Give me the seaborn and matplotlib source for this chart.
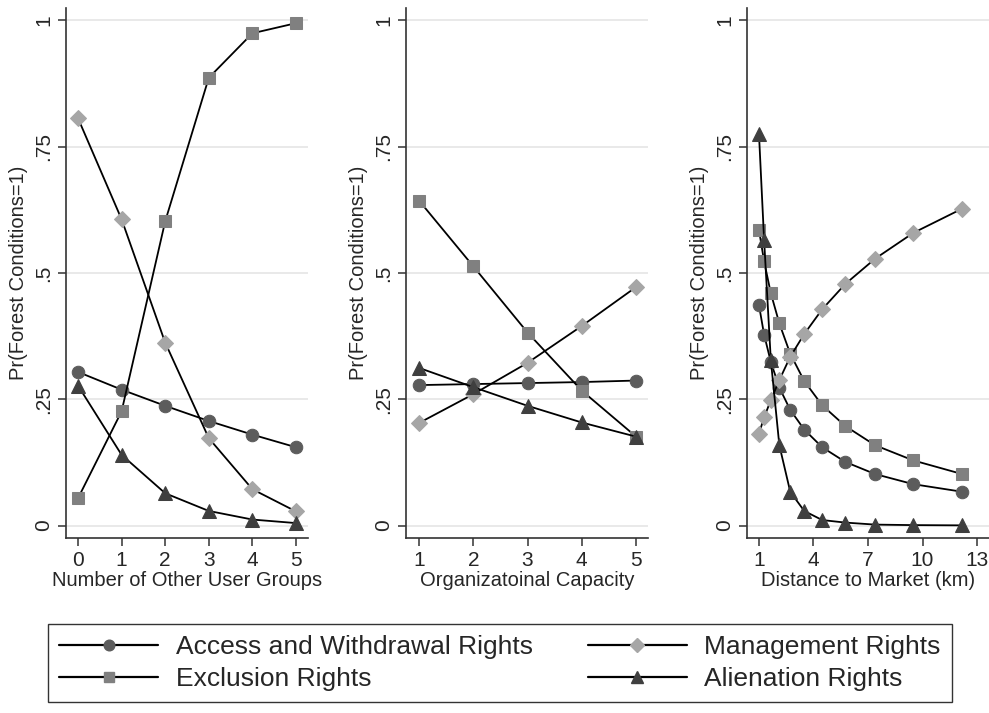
import matplotlib
matplotlib.use("Agg")
import matplotlib.pyplot as plt
import seaborn as sns
import pandas as pd
from matplotlib.lines import Line2D

# Predicted probabilities
user_groups = [0, 1, 2, 3, 4, 5]
ug_access = [0.304, 0.269, 0.237, 0.207, 0.180, 0.155]
ug_exclusion = [0.054, 0.226, 0.602, 0.886, 0.974, 0.994]
ug_management = [0.806, 0.606, 0.362, 0.173, 0.072, 0.028]
ug_alienation = [0.277, 0.140, 0.064, 0.029, 0.012, 0.005]

org_capacity = [1, 2, 3, 4, 5]
oc_access = [0.278, 0.280, 0.282, 0.284, 0.287]
oc_exclusion = [0.643, 0.513, 0.382, 0.267, 0.176]
oc_management = [0.203, 0.260, 0.322, 0.395, 0.472]
oc_alienation = [0.312, 0.274, 0.237, 0.204, 0.176]

distance = [1.0, 1.28, 1.65, 2.12, 2.72, 3.49, 4.48, 5.75, 7.39, 9.49, 12.18]
d_access = [0.436, 0.378, 0.324, 0.273, 0.229, 0.190, 0.155, 0.126, 0.102, 0.082, 0.067]
d_exclusion = [0.585, 0.523, 0.460, 0.400, 0.340, 0.286, 0.238, 0.197, 0.159, 0.129, 0.102]
d_management = [0.182, 0.214, 0.248, 0.288, 0.334, 0.379, 0.428, 0.478, 0.528, 0.579, 0.627]
d_alienation = [0.774, 0.566, 0.328, 0.159, 0.067, 0.029, 0.011, 0.006, 0.002, 0.001, 0.0005]

series_names = ["Access and Withdrawal Rights", "Exclusion Rights",
                "Management Rights", "Alienation Rights"]
markers = {"Access and Withdrawal Rights": ("o", "#5c5c5c", 9),
           "Exclusion Rights": ("s", "#808080", 8.5),
           "Management Rights": ("D", "#a6a6a6", 8),
           "Alienation Rights": ("^", "#3f3f3f", 9.5)}

panels = [
    ("Number of Other User Groups", user_groups,
     [ug_access, ug_exclusion, ug_management, ug_alienation],
     [0, 1, 2, 3, 4, 5], (-0.275, 5.275)),
    ("Organizatoinal Capacity", org_capacity,
     [oc_access, oc_exclusion, oc_management, oc_alienation],
     [1, 2, 3, 4, 5], (0.76, 5.22)),
    ("Distance to Market (km)", distance,
     [d_access, d_exclusion, d_management, d_alienation],
     [1, 4, 7, 10, 13], (0.34, 13.66)),
]

sns.set_style("white")
plt.rcParams["font.family"] = ["Liberation Sans", "DejaVu Sans"]

fig = plt.figure(figsize=(9.89, 7.13), dpi=100)
lefts = [66, 406, 747]
W, H = 989, 713

for (xlabel, xs, ys_list, xticks, xlim), left in zip(panels, lefts):
    ax = fig.add_axes([left / W, 1 - 538 / H, 242 / W, 530 / H])
    for name, ys in zip(series_names, ys_list):
        df = pd.DataFrame({"x": xs, "y": ys})
        m, c, s = markers[name]
        sns.lineplot(data=df, x="x", y="y", ax=ax, color="black", lw=1.3,
                     marker=m, markerfacecolor=c, markeredgecolor=c,
                     markersize=s, zorder=3)
    ax.set_xlim(*xlim)
    ax.set_ylim(-0.0245, 1.024)
    ax.set_xticks(xticks)
    ax.set_yticks([0, 0.25, 0.5, 0.75, 1])
    ax.set_yticklabels(["0", ".25", ".5", ".75", "1"], rotation=90, va="center")
    ax.yaxis.grid(True, color="#e5e5e5", lw=1.2)
    ax.xaxis.grid(False)
    for sp in ["top", "right"]:
        ax.spines[sp].set_visible(False)
    for sp in ["left", "bottom"]:
        ax.spines[sp].set_color("#333333")
        ax.spines[sp].set_linewidth(1.2)
    ax.tick_params(axis="both", direction="out", length=6, width=1.1,
                   color="#333333", labelsize=15, left=True, bottom=True, pad=3)
    ax.set_xlabel(xlabel, fontsize=14.5, labelpad=1)
    ax.set_ylabel("Pr(Forest Conditions=1)", fontsize=14.5, labelpad=5)

handles = []
for name in series_names:
    m, c, s = markers[name]
    handles.append(Line2D([], [], color="black", lw=1.6, marker=m,
                          markerfacecolor=c, markeredgecolor=c, markersize=s * 0.85))
leg = fig.legend(handles, series_names,
                 loc="center", bbox_to_anchor=(500 / W, 1 - 663 / H), ncol=2,
                 fontsize=19, frameon=True, fancybox=False, edgecolor="black",
                 handlelength=3.75, columnspacing=2.1, labelspacing=0.3,
                 borderpad=0.42, handletextpad=0.65)
leg.get_frame().set_linewidth(1.0)

fig.savefig("out.png", dpi=100)
